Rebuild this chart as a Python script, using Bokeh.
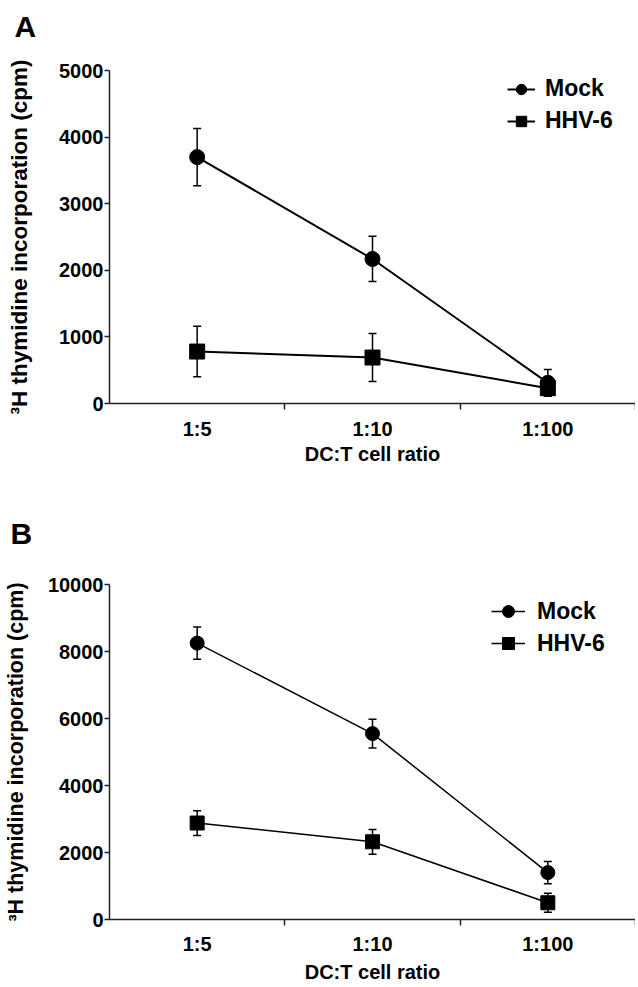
from bokeh.plotting import figure
from bokeh.models import (Range1d, FixedTicker, Whisker, TeeHead, ColumnDataSource,
                          Legend, LegendItem, Title)
from bokeh.layouts import column
from bokeh.embed import file_html
from bokeh.resources import INLINE

# ---- data ----
ratios = ["1:5", "1:10", "1:100"]

a_mock = [3700, 2170, 310]
a_mock_err = [430, 340, 200]
a_hhv6 = [780, 690, 230]
a_hhv6_err = [380, 360, 120]
a_yticks = [0, 1000, 2000, 3000, 4000, 5000]

b_mock = [8250, 5550, 1400]
b_mock_err = [480, 430, 330]
b_hhv6 = [2880, 2320, 500]
b_hhv6_err = [370, 370, 280]
b_yticks = [0, 2000, 4000, 6000, 8000, 10000]

FONT = "Liberation Sans"
WIDTH = 635


def letter_fig(letter, height, border_top, offset):
    f = figure(width=WIDTH, height=height, output_backend="svg", toolbar_location=None,
               x_range=Range1d(0, 1), y_range=Range1d(0, 1),
               x_axis_location=None, y_axis_location=None,
               min_border_left=0, min_border_right=0, min_border_bottom=0,
               min_border_top=border_top)
    f.outline_line_color = None
    f.grid.visible = False
    f.add_layout(Title(text=letter, align="left", offset=offset, standoff=0,
                       vertical_align="middle",
                       text_font=FONT, text_font_style="bold",
                       text_font_size="30px", text_color="black"), "above")
    return f


def panel(mock, mock_err, hhv6, hhv6_err, yticks, height, top, bottom,
          lw, msize, ylab_size, ylab_standoff, xlab_standoff, xaxis_label_standoff,
          legend_loc, glyph_w, glyph_h, leg_spacing, leg_standoff):
    xs = list(range(len(ratios)))
    p = figure(width=WIDTH, height=height, output_backend="svg", toolbar_location=None,
               x_range=Range1d(-0.5, len(ratios) - 0.5),
               y_range=Range1d(yticks[0], yticks[-1]),
               min_border_left=107, min_border_right=0,
               min_border_top=top, min_border_bottom=bottom)
    p.outline_line_color = None
    p.grid.visible = False

    for ax in (p.xaxis[0], p.yaxis[0]):
        ax.axis_line_color = "#222222"
        ax.axis_line_width = 1.5
        ax.major_tick_line_color = "#222222"
        ax.minor_tick_line_color = "#222222"
        ax.major_tick_line_width = 1.5
        ax.minor_tick_line_width = 1.5
        ax.major_label_text_font = FONT
        ax.major_label_text_font_style = "bold"
        ax.major_label_text_font_size = "20px"
        ax.major_label_text_color = "black"
        ax.axis_label_text_font = FONT
        ax.axis_label_text_font_style = "bold"
        ax.axis_label_text_color = "black"

    xa = p.xaxis[0]
    xa.ticker = FixedTicker(ticks=xs, minor_ticks=[x + 0.5 for x in xs])
    xa.major_label_overrides = {x: r for x, r in zip(xs, ratios)}
    xa.major_tick_out = 0
    xa.major_tick_in = 0
    xa.minor_tick_out = 6
    xa.minor_tick_in = 0
    xa.major_label_standoff = xlab_standoff
    xa.axis_label = "DC:T cell ratio"
    xa.axis_label_text_font_size = "20px"
    xa.axis_label_standoff = xaxis_label_standoff

    ya = p.yaxis[0]
    ya.ticker = FixedTicker(ticks=yticks, minor_ticks=[])
    ya.major_tick_out = 5
    ya.major_tick_in = 0
    ya.minor_tick_out = 0
    ya.minor_tick_in = 0
    ya.major_label_standoff = 1
    ya.axis_label = "\u00b3H thymidine incorporation (cpm)"
    ya.axis_label_text_font_size = ylab_size
    ya.axis_label_standoff = ylab_standoff

    items = []
    for name, vals, errs, marker in (("Mock", mock, mock_err, "circle"),
                                      ("HHV-6", hhv6, hhv6_err, "square")):
        src = ColumnDataSource(dict(x=xs, y=vals,
                                    upper=[v + e for v, e in zip(vals, errs)],
                                    lower=[v - e for v, e in zip(vals, errs)]))
        w = Whisker(base="x", upper="upper", lower="lower", source=src,
                    line_color="black", line_width=1.5,
                    upper_head=TeeHead(size=8, line_width=1.5, line_color="black"),
                    lower_head=TeeHead(size=8, line_width=1.5, line_color="black"))
        p.add_layout(w)
        lr = p.line("x", "y", source=src, line_color="black", line_width=lw)
        sr = p.scatter("x", "y", source=src, marker=marker, size=msize,
                       fill_color="black", line_color="black")
        items.append(LegendItem(label=name, renderers=[lr, sr]))

    leg = Legend(items=items, location=legend_loc, glyph_width=glyph_w, glyph_height=glyph_h,
                 label_standoff=leg_standoff, spacing=leg_spacing, padding=0, margin=0,
                 border_line_alpha=0, background_fill_alpha=0,
                 label_text_font=FONT, label_text_font_style="bold",
                 label_text_font_size="23px", label_text_color="black")
    p.add_layout(leg)
    return p


la = letter_fig("A", 52, 43, -95)
pa = panel(a_mock, a_mock_err, a_hhv6, a_hhv6_err, a_yticks,
           height=460, top=18, bottom=109, lw=2, msize=15, ylab_size="22.5px",
           ylab_standoff=24, xlab_standoff=8, xaxis_label_standoff=0,
           legend_loc=(398, 269), glyph_w=28, glyph_h=26, leg_spacing=5, leg_standoff=10)
lb = letter_fig("B", 40, 38, -99)
pb = panel(b_mock, b_mock_err, b_hhv6, b_hhv6_err, b_yticks,
           height=433, top=32, bottom=65, lw=1.5, msize=14, ylab_size="21.5px",
           ylab_standoff=17, xlab_standoff=7, xaxis_label_standoff=3,
           legend_loc=(382, 261), glyph_w=34, glyph_h=30, leg_spacing=2, leg_standoff=12)

layout = column(la, pa, lb, pb, spacing=0)
open("out.html", "w").write(file_html(layout, INLINE))
